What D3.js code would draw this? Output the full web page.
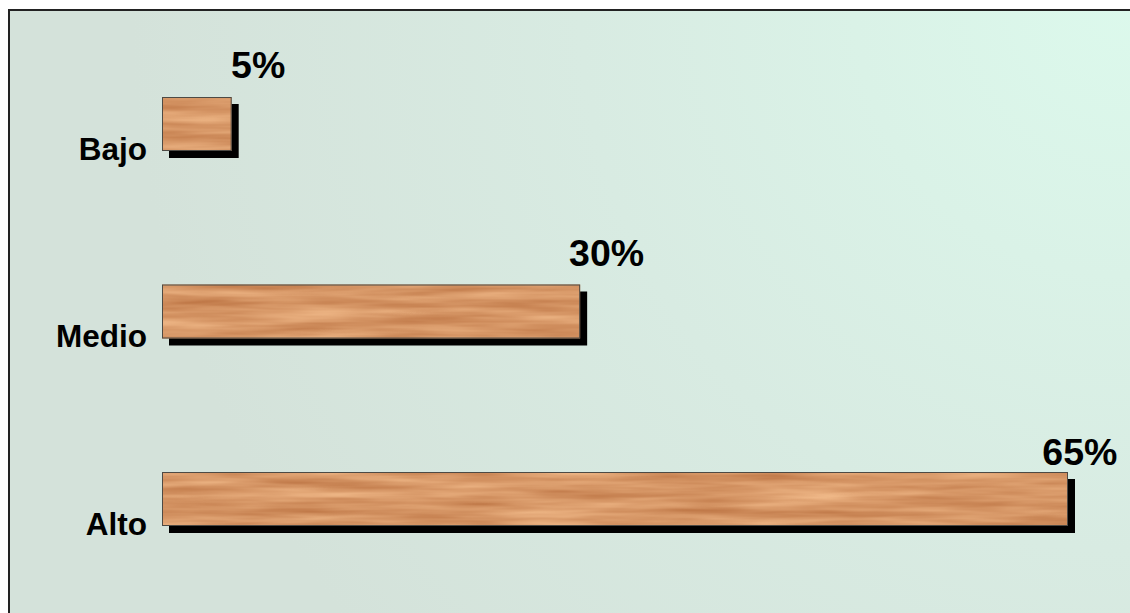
<!DOCTYPE html>
<html>
<head>
<meta charset="utf-8">
<script src="https://cdn.jsdelivr.net/npm/d3@7"></script>
<style>
  html, body { margin: 0; padding: 0; overflow: hidden; background: #fff; }
  text { font-family: Arial, "Liberation Sans", sans-serif; font-weight: bold; fill: #000; }
</style>
</head>
<body>
<div id="chart"></div>
<script>
// data
var categories = ["Bajo", "Medio", "Alto"];
var values = [5, 30, 65];
var valueLabels = ["5%", "30%", "65%"];

var svgWidth = 1130;
var svgHeight = 613;

var svg = d3.select("#chart")
    .append("svg")
    .attr("width", svgWidth)
    .attr("height", svgHeight);

var defs = svg.append("defs");

// background gradient, light mint in the top right corner
var bg = defs.append("radialGradient")
    .attr("id", "bg")
    .attr("gradientUnits", "userSpaceOnUse")
    .attr("cx", 1130).attr("cy", 0).attr("r", 1000);
bg.append("stop").attr("offset", "0").attr("stop-color", "#dcf9ec");
bg.append("stop").attr("offset", "0.55").attr("stop-color", "#d8ebe2");
bg.append("stop").attr("offset", "1").attr("stop-color", "#d4e2da");

// wood texture
var wood = defs.append("filter")
    .attr("id", "wood")
    .attr("color-interpolation-filters", "sRGB")
    .attr("x", 0).attr("y", 0).attr("width", 1).attr("height", 1);
wood.append("feTurbulence")
    .attr("type", "fractalNoise")
    .attr("baseFrequency", "0.008 0.11")
    .attr("numOctaves", 3)
    .attr("seed", 7)
    .attr("result", "noise");
wood.append("feColorMatrix")
    .attr("in", "noise")
    .attr("type", "matrix")
    .attr("values", "0.24 0 0 0 0.72  0.32 0 0 0 0.43  0.32 0 0 0 0.24  0 0 0 0 1")
    .attr("result", "tone");
wood.append("feComposite")
    .attr("in", "tone")
    .attr("in2", "SourceGraphic")
    .attr("operator", "in");

svg.append("rect")
    .attr("width", svgWidth)
    .attr("height", svgHeight)
    .attr("fill", "#fff");

svg.append("rect")
    .attr("x", 9).attr("y", 10)
    .attr("width", svgWidth).attr("height", svgHeight)
    .attr("fill", "url(#bg)")
    .attr("stroke", "#222")
    .attr("stroke-width", 2);

// scales
var xScale = d3.scaleLinear()
    .domain([0, 65])
    .range([162, 1068]);

var yScale = d3.scaleBand()
    .domain(categories)
    .range([30.25, 592.75])
    .paddingInner(0.712)
    .paddingOuter(0.356);

var rows = categories.map(function(c, i) {
  return { cat: c, value: values[i], label: valueLabels[i] };
});

var chartGroup = svg.append("g");

// shadows
chartGroup.selectAll(".shadow")
    .data(rows)
    .enter()
    .append("rect")
    .attr("class", "shadow")
    .attr("x", xScale(0) + 7)
    .attr("y", d => yScale(d.cat) + 7)
    .attr("width", d => xScale(d.value) - xScale(0))
    .attr("height", yScale.bandwidth())
    .attr("fill", "#000");

// bars
chartGroup.selectAll(".bar")
    .data(rows)
    .enter()
    .append("rect")
    .attr("class", "bar")
    .attr("x", xScale(0))
    .attr("y", d => yScale(d.cat))
    .attr("width", d => xScale(d.value) - xScale(0))
    .attr("height", yScale.bandwidth())
    .attr("fill", "#d79a66")
    .attr("filter", "url(#wood)");

chartGroup.selectAll(".barline")
    .data(rows)
    .enter()
    .append("rect")
    .attr("class", "barline")
    .attr("x", xScale(0) + 0.5)
    .attr("y", d => yScale(d.cat) + 0.5)
    .attr("width", d => xScale(d.value) - xScale(0) - 1)
    .attr("height", yScale.bandwidth() - 1)
    .attr("fill", "none")
    .attr("stroke", "#4d4a44")
    .attr("stroke-width", 1);

// category labels
chartGroup.selectAll(".cat")
    .data(rows)
    .enter()
    .append("text")
    .attr("class", "cat")
    .attr("x", 147)
    .attr("y", d => yScale(d.cat) + yScale.bandwidth() + 8.5)
    .attr("text-anchor", "end")
    .attr("font-size", 31.5)
    .text(d => d.cat);

// value labels
function labelX(d) {
  return xScale(0) + (xScale(d.value) - xScale(0)) * 0.97 + 1.5;
}

chartGroup.selectAll(".val")
    .data(rows)
    .enter()
    .append("text")
    .attr("class", "val")
    .attr("x", labelX)
    .attr("y", function(d) {
      // labels pushed against the right edge sit lower
      return labelX(d) > 1030 ? yScale(d.cat) - 7 : yScale(d.cat) - 19;
    })
    .attr("font-size", 37.5)
    .text(d => d.label);
</script>
</body>
</html>
